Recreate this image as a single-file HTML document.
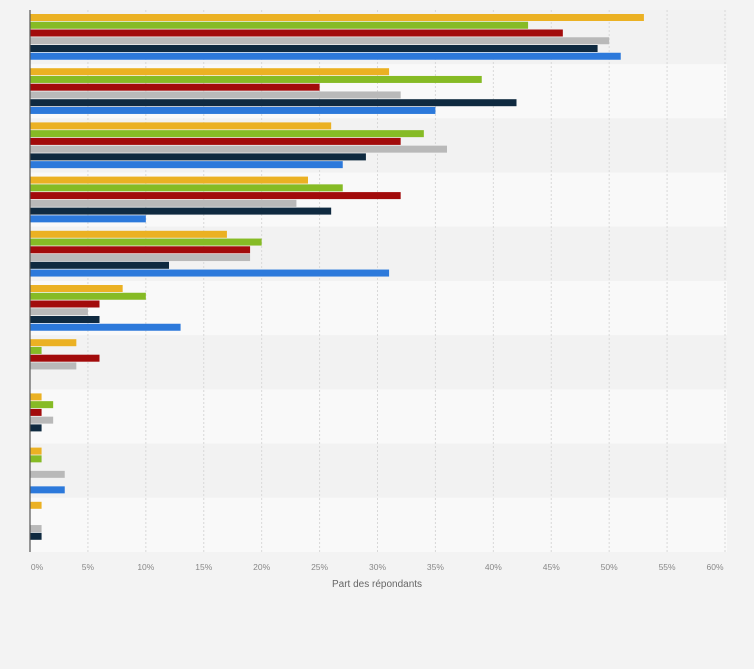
<!DOCTYPE html>
<html><head><meta charset="utf-8"><style>
html,body{margin:0;padding:0;background:#f3f3f3;}
svg{display:block;font-family:"Liberation Sans",sans-serif;}
</style></head><body>
<svg id="chart" width="754" height="669"></svg>
<script>
const categories=["c1","c2","c3","c4","c5","c6","c7","c8","c9","c10"];
const seriesA=[53,31,26,24,17,8,4,1,1,1];
const seriesB=[43,39,34,27,20,10,1,2,1,0];
const seriesC=[46,25,32,32,19,6,6,1,0,0];
const seriesD=[50,32,36,23,19,5,4,2,3,1];
const seriesE=[49,42,29,26,12,6,0,1,0,1];
const seriesF=[51,35,27,10,31,13,0,0,3,0];
const ticks=[0,5,10,15,20,25,30,35,40,45,50,55,60];
const tickLabels=ticks.map(t=>t+"%");
const colors=["#ebb123","#86bb25","#a20b0b","#b9b9b9","#0f2a40","#2c79db"];
const series=[seriesA,seriesB,seriesC,seriesD,seriesE,seriesF];
const NS="http://www.w3.org/2000/svg";
const svgEl=document.getElementById('chart');
const x0=30,x1=725,plotTop=10,plotBottom=552;
const xs=v=>x0+(v/60)*(x1-x0);
const bandH=(plotBottom-plotTop)/categories.length;
const yb=i=>plotTop+i*bandH;
function mk(t,a){const e=document.createElementNS(NS,t);for(const k in a)e.setAttribute(k,a[k]);svgEl.appendChild(e);return e;}
categories.forEach((c,i)=>{
  const r=mk('rect',{x:x0,y:yb(i),width:x1-x0+2,height:bandH,fill:i%2?'#f9f9f9':'#f2f2f2'});
  
  
});
ticks.forEach((t,i)=>{
  if(i>0){const g=mk('line',{x1:xs(t),x2:xs(t),y1:plotTop,y2:plotBottom,stroke:'#d8d8d8','stroke-dasharray':'2,2','stroke-width':1});
  
  }
  let lx=xs(t);
  if(i==0)lx+=7;
  if(i==ticks.length-1)lx-=10;
  const tx=mk('text',{x:lx,y:570,'font-size':8.5,fill:'#888','text-anchor':'middle','font-family':'"Liberation Sans Narrow","Liberation Sans",sans-serif'});
  tx.textContent=tickLabels[i];
  
  
});
categories.forEach((c,i)=>{
  series.forEach((s,j)=>{
    const v=s[i];
    if(v<=0)return;
    const b=mk('rect',{x:x0,y:yb(i)+4+j*7.75,width:xs(v)-x0,height:7,fill:colors[j]});
    
    
  });
});
const ax=mk('line',{x1:x0,x2:x0,y1:plotTop,y2:plotBottom,stroke:'#555','stroke-width':1.2});


const tt=mk('text',{x:377,y:587,'font-size':10,fill:'#666','text-anchor':'middle'});
tt.textContent="Part des répondants";


</script>
</body></html>
